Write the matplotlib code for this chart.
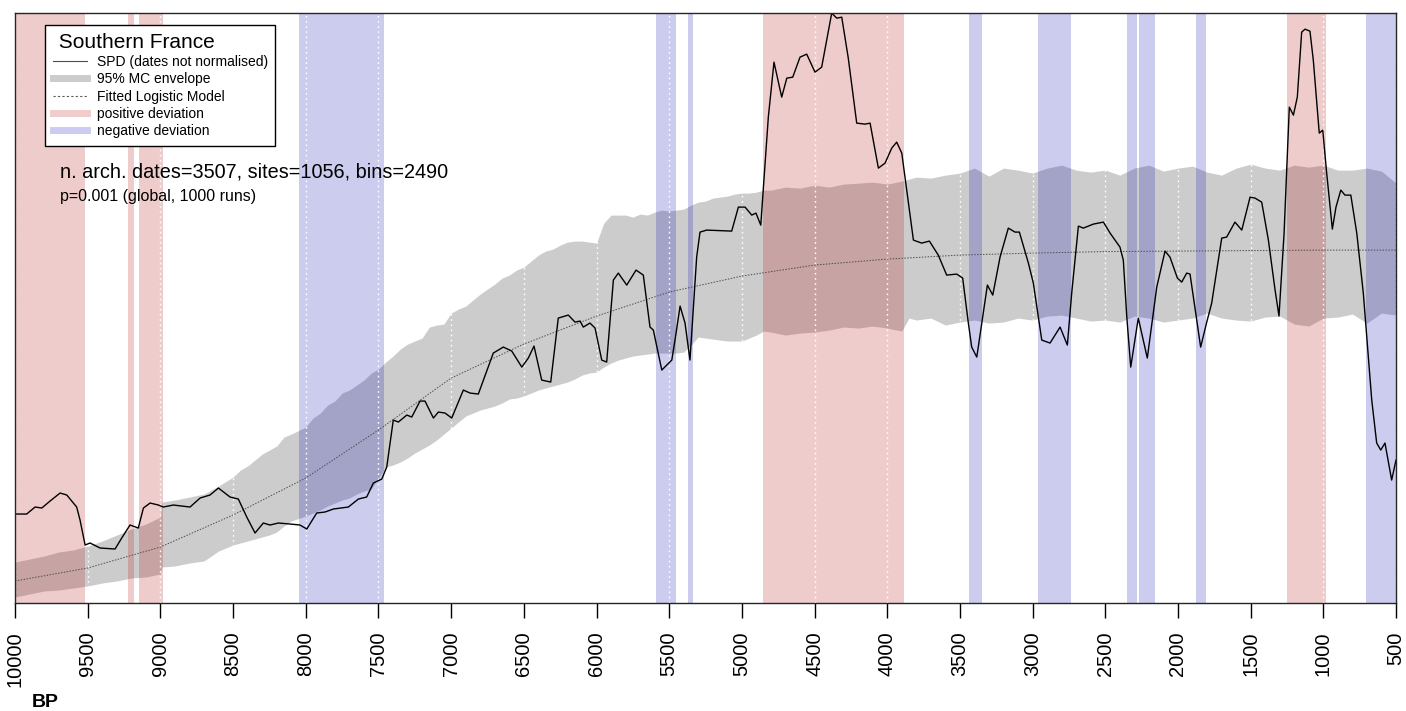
'''SPD model test - Southern France'''
import matplotlib.pyplot as plt
from matplotlib.lines import Line2D

plt.rcParams['font.family'] = ['Liberation Sans', 'DejaVu Sans']

# observed SPD (years BP, summed probability)
spd_bp = [10000, 9920, 9862, 9816, 9759, 9690, 9644, 9576, 9553, 9518, 9484, 9415, 9312, 9266,
          9209, 9152, 9117, 9071, 9014, 8980, 8911, 8853, 8796, 8727, 8659, 8601, 8521, 8464,
          8406, 8349, 8292, 8246, 8189, 8108, 8040, 7993, 7925, 7868, 7810, 7707, 7638, 7581,
          7535, 7477, 7443, 7398, 7363, 7305, 7271, 7214, 7180, 7122, 7088, 7042, 6996, 6916,
          6870, 6813, 6710, 6641, 6583, 6514, 6469, 6430, 6377, 6315, 6263, 6194, 6148, 6113,
          6091, 6045, 6010, 5964, 5930, 5884, 5850, 5792, 5728, 5678, 5632, 5609, 5551, 5482,
          5460, 5425, 5391, 5357, 5311, 5288, 5242, 5070, 5024, 4978, 4932, 4903, 4870, 4818,
          4779, 4726, 4691, 4650, 4600, 4554, 4497, 4451, 4382, 4347, 4313, 4268, 4210, 4153,
          4118, 4061, 4015, 3969, 3935, 3900, 3820, 3763, 3710, 3649, 3591, 3522, 3481, 3442,
          3419, 3384, 3339, 3311, 3274, 3224, 3167, 3121, 3091, 3029, 2995, 2937, 2880, 2811,
          2761, 2731, 2685, 2651, 2582, 2513, 2467, 2399, 2376, 2352, 2325, 2273, 2211, 2146,
          2089, 2055, 2004, 1974, 1940, 1917, 1876, 1844, 1802, 1768, 1699, 1665, 1608, 1561,
          1504, 1470, 1424, 1378, 1332, 1305, 1270, 1234, 1206, 1179, 1149, 1126, 1092, 1069,
          1028, 1004, 977, 938, 913, 880, 851, 811, 770, 725, 667, 633, 605, 576, 530, 500]
spd = [0.089, 0.089, 0.096, 0.095, 0.102, 0.110, 0.108, 0.096, 0.083, 0.058, 0.060, 0.055, 0.054, 0.065,
       0.078, 0.075, 0.095, 0.100, 0.098, 0.096, 0.098, 0.097, 0.096, 0.105, 0.108, 0.115, 0.106, 0.104,
       0.086, 0.070, 0.080, 0.078, 0.080, 0.079, 0.078, 0.074, 0.090, 0.091, 0.094, 0.096, 0.104, 0.106,
       0.120, 0.124, 0.136, 0.183, 0.181, 0.188, 0.186, 0.202, 0.202, 0.185, 0.191, 0.190, 0.185, 0.213,
       0.210, 0.209, 0.250, 0.256, 0.252, 0.236, 0.245, 0.257, 0.223, 0.221, 0.285, 0.288, 0.281, 0.282,
       0.276, 0.280, 0.275, 0.243, 0.241, 0.323, 0.330, 0.318, 0.333, 0.328, 0.276, 0.273, 0.233, 0.243,
       0.263, 0.297, 0.280, 0.243, 0.346, 0.371, 0.373, 0.372, 0.396, 0.396, 0.388, 0.390, 0.378, 0.486,
       0.541, 0.506, 0.525, 0.526, 0.546, 0.549, 0.531, 0.536, 0.590, 0.585, 0.586, 0.545, 0.480, 0.479,
       0.480, 0.435, 0.440, 0.455, 0.461, 0.450, 0.363, 0.360, 0.362, 0.348, 0.328, 0.329, 0.325, 0.280,
       0.256, 0.246, 0.290, 0.318, 0.308, 0.346, 0.375, 0.371, 0.371, 0.340, 0.320, 0.263, 0.260, 0.276,
       0.258, 0.310, 0.377, 0.375, 0.379, 0.381, 0.370, 0.356, 0.343, 0.286, 0.236, 0.285, 0.245, 0.316,
       0.352, 0.346, 0.325, 0.321, 0.330, 0.329, 0.288, 0.256, 0.281, 0.300, 0.365, 0.366, 0.381, 0.373,
       0.406, 0.405, 0.401, 0.363, 0.313, 0.287, 0.370, 0.496, 0.488, 0.506, 0.571, 0.574, 0.572, 0.543,
       0.470, 0.473, 0.430, 0.374, 0.396, 0.413, 0.408, 0.408, 0.370, 0.310, 0.203, 0.160, 0.153, 0.160,
       0.123, 0.143]

# 95% MC envelope
env_bp = [10000, 9900, 9800, 9700, 9600, 9500, 9400, 9300, 9200, 9100, 9000, 8990, 8900, 8800,
          8700, 8650, 8600, 8500, 8450, 8400, 8300, 8250, 8200, 8150, 8100, 8000, 7950, 7900,
          7850, 7800, 7750, 7700, 7650, 7600, 7550, 7500, 7450, 7400, 7350, 7300, 7250, 7200,
          7150, 7100, 7050, 7000, 6950, 6900, 6850, 6800, 6750, 6700, 6650, 6600, 6550, 6500,
          6450, 6400, 6350, 6300, 6250, 6200, 6150, 6100, 6050, 6000, 5950, 5900, 5850, 5800,
          5750, 5700, 5650, 5600, 5550, 5500, 5450, 5400, 5350, 5300, 5250, 5200, 5150, 5100,
          5050, 5000, 4950, 4900, 4850, 4800, 4700, 4600, 4500, 4400, 4300, 4200, 4100, 4000,
          3900, 3850, 3800, 3700, 3600, 3500, 3400, 3300, 3200, 3100, 3000, 2900, 2800, 2700,
          2600, 2500, 2400, 2300, 2200, 2100, 2000, 1900, 1800, 1700, 1600, 1500, 1400, 1300,
          1200, 1100, 1000, 900, 800, 700, 600, 500]
env_hi = [0.041, 0.044, 0.047, 0.051, 0.053, 0.057, 0.062, 0.068, 0.074, 0.079, 0.086, 0.101, 0.103, 0.106,
          0.109, 0.113, 0.117, 0.126, 0.133, 0.137, 0.149, 0.153, 0.157, 0.166, 0.169, 0.176, 0.185, 0.190,
          0.198, 0.202, 0.210, 0.213, 0.218, 0.223, 0.230, 0.234, 0.241, 0.247, 0.254, 0.259, 0.262, 0.265,
          0.276, 0.278, 0.279, 0.290, 0.294, 0.297, 0.303, 0.309, 0.314, 0.319, 0.325, 0.328, 0.333, 0.336,
          0.342, 0.348, 0.352, 0.354, 0.358, 0.361, 0.362, 0.362, 0.361, 0.360, 0.380, 0.388, 0.388, 0.388,
          0.386, 0.389, 0.388, 0.391, 0.393, 0.392, 0.393, 0.394, 0.398, 0.401, 0.402, 0.405, 0.406, 0.407,
          0.409, 0.410, 0.410, 0.411, 0.413, 0.413, 0.416, 0.415, 0.418, 0.416, 0.419, 0.420, 0.421, 0.419,
          0.422, 0.424, 0.426, 0.425, 0.428, 0.430, 0.435, 0.427, 0.435, 0.433, 0.430, 0.435, 0.438, 0.433,
          0.431, 0.433, 0.428, 0.435, 0.438, 0.432, 0.435, 0.437, 0.431, 0.428, 0.435, 0.439, 0.435, 0.433,
          0.438, 0.436, 0.438, 0.433, 0.433, 0.435, 0.432, 0.420]
env_lo = [0.006, 0.009, 0.012, 0.013, 0.015, 0.017, 0.020, 0.022, 0.025, 0.026, 0.029, 0.036, 0.037, 0.040,
          0.042, 0.047, 0.052, 0.058, 0.060, 0.062, 0.066, 0.068, 0.071, 0.077, 0.082, 0.087, 0.090, 0.093,
          0.097, 0.100, 0.103, 0.105, 0.109, 0.112, 0.114, 0.125, 0.136, 0.138, 0.141, 0.145, 0.150, 0.154,
          0.158, 0.163, 0.169, 0.175, 0.181, 0.187, 0.190, 0.193, 0.195, 0.197, 0.200, 0.204, 0.205, 0.207,
          0.210, 0.213, 0.215, 0.217, 0.219, 0.221, 0.224, 0.228, 0.230, 0.231, 0.236, 0.240, 0.243, 0.245,
          0.247, 0.248, 0.249, 0.250, 0.250, 0.250, 0.250, 0.251, 0.258, 0.266, 0.265, 0.264, 0.263, 0.262,
          0.262, 0.262, 0.265, 0.268, 0.272, 0.271, 0.268, 0.270, 0.271, 0.273, 0.276, 0.275, 0.277, 0.275,
          0.272, 0.285, 0.283, 0.285, 0.278, 0.281, 0.283, 0.280, 0.281, 0.285, 0.283, 0.287, 0.288, 0.285,
          0.282, 0.283, 0.281, 0.287, 0.285, 0.281, 0.283, 0.285, 0.290, 0.285, 0.283, 0.282, 0.286, 0.287,
          0.279, 0.277, 0.285, 0.286, 0.289, 0.280, 0.290, 0.288]

# fitted logistic model
fit_bp = [10000, 9500, 9000, 8500, 8000, 7500, 7000, 6500, 6000, 5500, 5000, 4500, 4000, 3500,
          3000, 2500, 2000, 1500, 1000, 500]
fit = [0.022, 0.035, 0.056, 0.088, 0.125, 0.173, 0.225, 0.259, 0.287, 0.311, 0.327, 0.338, 0.344, 0.348,
       0.350, 0.3515, 0.352, 0.3525, 0.353, 0.353]

# significant deviations (start BP, end BP)
pos_dev = [(10000, 9520), (9225, 9180), (9150, 8985), (4852, 3882), (1252, 982)]
neg_dev = [(8046, 7462), (5591, 5455), (5368, 5338), (3437, 3350), (2961, 2736),
           (2353, 2280), (2268, 2158), (1878, 1807), (706, 500)]

ticks = list(range(10000, 499, -500))

col_env = (0, 0, 0, 0.2)
col_pos = (0.7, 0, 0, 0.2)
col_neg = (0, 0, 0.7, 0.2)

fig = plt.figure(figsize=(14.06, 7.11), dpi=100)
ax = fig.add_axes([0.0107, 0.1519, 0.9822, 0.8303])

ax.fill_between(env_bp, env_lo, env_hi, color=col_env, lw=0)
for a, b in pos_dev:
    ax.axvspan(b, a, color=col_pos, lw=0)
for a, b in neg_dev:
    ax.axvspan(b, a, color=col_neg, lw=0)
for t in ticks:
    ax.axvline(t, color='white', ls=(0, (1.2, 2.5)), lw=1.0)
ax.plot(fit_bp, fit, color='0.3', ls=(0, (1.5, 1.5)), lw=0.7)
ax.plot(spd_bp, spd, color='black', lw=1.0)

ax.set_xlim(10000, 500)
ax.set_ylim(0, 0.5905)
ax.set_yticks([])
ax.set_xticks(ticks)
ax.set_xticklabels([str(t) for t in ticks], rotation=90, fontsize=14.5)
ax.tick_params(axis='x', length=10.8, width=1.0, pad=9.5, direction='out')
for s in ax.spines.values():
    s.set_linewidth(1.0)
    s.set_color('0.15')

handles = [Line2D([], [], color='0.3', lw=0.8),
           Line2D([], [], color=(0.8, 0.8, 0.8), lw=5),
           Line2D([], [], color='0.35', ls=(0, (2, 2)), lw=0.8),
           Line2D([], [], color=(0.94, 0.8, 0.8), lw=5),
           Line2D([], [], color=(0.8, 0.8, 0.94), lw=5)]
labels = ['SPD (dates not normalised)', '95% MC envelope', 'Fitted Logistic Model',
          'positive deviation', 'negative deviation']
leg = ax.legend(handles, labels, loc='upper left', bbox_to_anchor=(0.0217, 0.979),
                borderaxespad=0, fontsize=10, title=' Southern France', title_fontsize=15,
                alignment='left', fancybox=False, framealpha=1, edgecolor='black',
                handlelength=2.45, handletextpad=0.72, labelspacing=0.24, borderpad=0.55)
leg.get_frame().set_linewidth(1.0)

ax.text(0.0326, 0.720, 'n. arch. dates=3507, sites=1056, bins=2490', transform=ax.transAxes,
        fontsize=14.3, va='baseline')
ax.text(0.0326, 0.681, 'p=0.001 (global, 1000 runs)', transform=ax.transAxes,
        fontsize=11.5, va='baseline')
fig.text(0.0228, 0.005, 'BP', fontsize=14, fontweight='bold', va='baseline')

plt.savefig('out.png', dpi=100)
